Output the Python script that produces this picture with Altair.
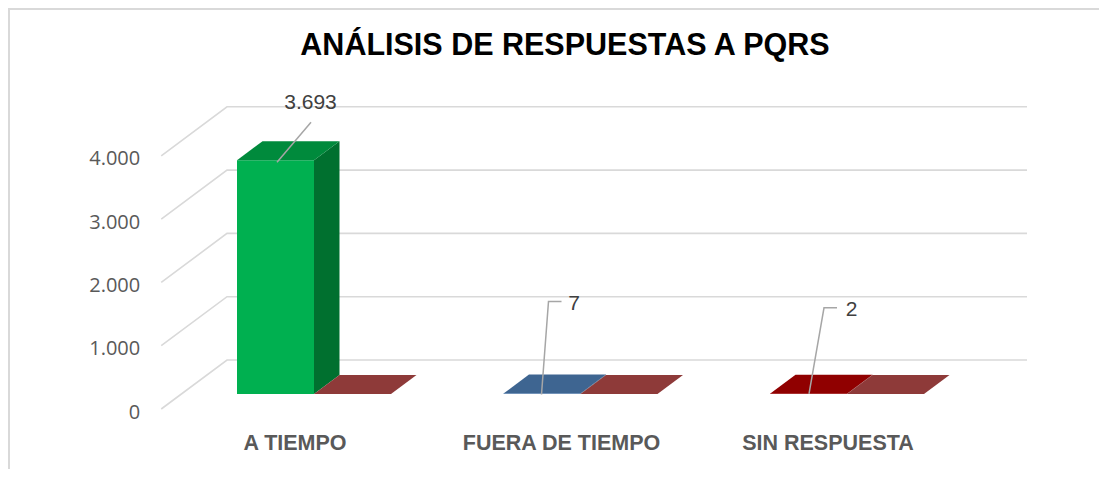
import altair as alt
import pandas as pd

# ---------------- data ----------------
categories = ["A TIEMPO", "FUERA DE TIEMPO", "SIN RESPUESTA"]
main_values = [3693, 7, 2]
second_values = [0, 0, 0]
value_labels = ["3.693", "7", "2"]
tick_values = [0, 1000, 2000, 3000, 4000]
tick_labels = ["0", "1.000", "2.000", "3.000", "4.000"]
title_text = "ANÁLISIS DE RESPUESTAS A PQRS"

# ---------------- styles ----------------
main_front = ["#00B050", "#4F81BD", "#C00000"]
main_top = ["#008A3C", "#3E6591", "#900000"]
main_side = ["#00702F", "#2F4E72", "#700000"]
second_top = "#8E3A39"
grid_color = "#D9D9D9"
sans = "Liberation Sans, Arial, sans-serif"

# ---------------- layout (pseudo-3D projection) ----------------
W, H = 1091, 461            # plot area = whole drawing
CAT_PX = 266.5              # px between clusters
K = 0.0633                  # px per value unit
X0, Y0 = 306.0, 386.0       # origin (cluster 0 centre, value 0) inside the view
BAR_W = 77 / CAT_PX         # bar width in category units
SLANT = 1.342               # x px per depth px
BAR_D = 19                  # bar depth (px)
WALL_FRONT, WALL_BACK = -15, 34
WALL_LEFT_BACK = (227 - 314) / CAT_PX
WALL_RIGHT = (1027 - 314) / CAT_PX


def dxu(d):
    return SLANT * d / CAT_PX


def dY(d):
    return d / K


xs = alt.Scale(domain=[-X0 / CAT_PX, (W - X0) / CAT_PX], nice=False, zero=False)
ys = alt.Scale(domain=[(Y0 - H) / K, Y0 / K], nice=False, zero=False)


def X(f):
    return alt.X(f, type="quantitative", scale=xs, axis=None)


def X2(f):
    return alt.X2(f)


def Y(f):
    return alt.Y(f, type="quantitative", scale=ys, axis=None)


# gridlines: side wall diagonal + back wall horizontal
grid_rows = []
x_front_left = WALL_LEFT_BACK - dxu(WALL_BACK - WALL_FRONT)
for t in tick_values:
    grid_rows += [
        dict(t=t, o=0, x=x_front_left, y=t + dY(WALL_FRONT)),
        dict(t=t, o=1, x=WALL_LEFT_BACK, y=t + dY(WALL_BACK)),
        dict(t=t, o=2, x=WALL_RIGHT, y=t + dY(WALL_BACK)),
    ]
grid = alt.Chart(pd.DataFrame(grid_rows)).mark_line(
    color=grid_color, strokeWidth=1.6
).encode(x=X("x"), y=Y("y"), detail="t:N", order="o:Q")

# bar front faces
front_df = pd.DataFrame(
    dict(
        cat=categories,
        x=[i - BAR_W for i in range(3)],
        x2=[float(i) for i in range(3)],
        y=[0] * 3,
        y2=main_values,
        col=main_front,
    )
)
front = alt.Chart(front_df).mark_rect().encode(
    x=X("x"), x2=X2("x2"), y=Y("y"), y2=alt.Y2("y2"),
    color=alt.Color("col:N", scale=None),
)

# bar side faces
side_rows = []
for i, v in enumerate(main_values):
    side_rows += [
        dict(bar=f"m{i}", x=float(i), lo=0.0, hi=float(v), col=main_side[i]),
        dict(bar=f"m{i}", x=i + dxu(BAR_D), lo=dY(BAR_D), hi=v + dY(BAR_D), col=main_side[i]),
    ]
side = alt.Chart(pd.DataFrame(side_rows)).mark_area(orient="vertical").encode(
    x=X("x"), y=Y("hi"), y2=alt.Y2("lo"), detail="bar:N",
    color=alt.Color("col:N", scale=None),
)

# top faces (main series and second series)
top_rows = []
for i, v in enumerate(main_values):
    top_rows += [
        dict(bar=f"m{i}", y=float(v), xa=i - BAR_W, xb=float(i), col=main_top[i]),
        dict(bar=f"m{i}", y=v + dY(BAR_D), xa=i - BAR_W + dxu(BAR_D), xb=i + dxu(BAR_D), col=main_top[i]),
    ]
for i, v in enumerate(second_values):
    top_rows += [
        dict(bar=f"s{i}", y=float(v), xa=float(i), xb=i + BAR_W, col=second_top),
        dict(bar=f"s{i}", y=v + dY(BAR_D), xa=i + dxu(BAR_D), xb=i + BAR_W + dxu(BAR_D), col=second_top),
    ]
top = alt.Chart(pd.DataFrame(top_rows)).mark_area(orient="horizontal").encode(
    y=Y("y"), x=X("xa"), x2=X2("xb"), detail="bar:N",
    color=alt.Color("col:N", scale=None),
)

# data-label leader lines (offsets in px from the bar's front-face top centre)
leader_px = [
    [(1.5, -2), (35.5, 38)],
    [(-0.5, -1), (6.5, 92), (19.5, 92)],
    [(0.5, 0), (15.5, 86), (28.5, 86)],
]
label_px = [(35, 51.5), (32, 84), (43, 77.5)]
lead_rows, lab_rows = [], []
for i, v in enumerate(main_values):
    ax, ay = i - BAR_W / 2, v
    for o, (dx, dy) in enumerate(leader_px[i]):
        lead_rows.append(dict(cat=i, o=o, x=ax + dx / CAT_PX, y=ay + dy / K))
    lab_rows.append(dict(txt=value_labels[i], x=ax + label_px[i][0] / CAT_PX, y=ay + label_px[i][1] / K))
leaders = alt.Chart(pd.DataFrame(lead_rows)).mark_line(
    color="#A6A6A6", strokeWidth=1.5
).encode(x=X("x"), y=Y("y"), detail="cat:N", order="o:Q")
vlabels = alt.Chart(pd.DataFrame(lab_rows)).mark_text(
    font=sans, fontSize=21, color="#404040", align="center", baseline="alphabetic"
).encode(x=X("x"), y=Y("y"), text="txt:N")

# y tick labels (on the front edge of the side wall)
tick_df = pd.DataFrame(
    dict(lab=tick_labels, x=[x_front_left] * 5, y=[t + dY(WALL_FRONT) for t in tick_values])
)
ticks = alt.Chart(tick_df).mark_text(
    font="Open Sans", fontSize=20, color="#595959", align="right",
    baseline="alphabetic", dx=-21, dy=9.5,
).encode(x=X("x"), y=Y("y"), text="lab:N")

# category labels
cat_df = pd.DataFrame(
    dict(cat=categories, x=[i - 19 / CAT_PX for i in range(3)], y=[-dY(56)] * 3)
)
cats = alt.Chart(cat_df).mark_text(
    font=sans, fontSize=21.5, fontWeight="bold", color="#595959",
    align="center", baseline="alphabetic",
).encode(x=X("x"), y=Y("y"), text="cat:N")

# title and frame
title = alt.Chart(pd.DataFrame(dict(t=[title_text]))).mark_text(
    font=sans, fontSize=30.5, fontWeight="bold", color="#000000",
    align="center", baseline="alphabetic",
).encode(x=alt.value(557), y=alt.value(47), text="t:N")
frame_top = alt.Chart(pd.DataFrame(dict(a=[0]))).mark_rule(
    color=grid_color, strokeWidth=2
).encode(x=alt.value(0), x2=alt.value(W), y=alt.value(1))
frame_left = alt.Chart(pd.DataFrame(dict(a=[0]))).mark_rule(
    color=grid_color, strokeWidth=2
).encode(x=alt.value(1), y=alt.value(0), y2=alt.value(H))

chart = alt.layer(
    frame_top, frame_left, grid, front, side, top, leaders, vlabels, ticks, cats, title
).properties(
    width=W, height=H, padding=0,
    autosize=alt.AutoSizeParams(type="none"),
    background="#FFFFFF",
).configure_view(stroke=None)

chart.save("out.html", embed_options={"renderer": "svg", "actions": False})
